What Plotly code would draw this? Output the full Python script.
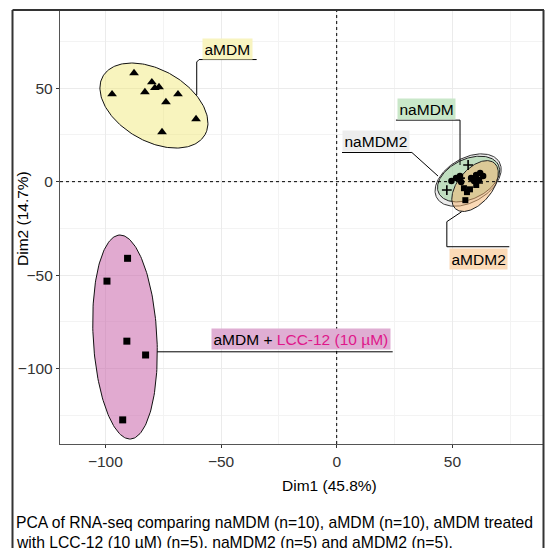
import numpy as np
import plotly.graph_objects as go

# ---------------- data ----------------
amdm_x = [-87.6, -97.1, -79.9, -82.9, -78.6, -76.8, -73.8, -68.6, -60.8, -75.5]
amdm_y = [58.1, 46.8, 53.2, 47.9, 50.1, 50.6, 42.6, 46.8, 33.5, 26.5]

lcc_x = [-90.4, -99.3, -90.7, -82.6, -92.5]
lcc_y = [-41.0, -53.2, -85.3, -92.7, -127.4]

namdm_x = [49.6, 51.6, 53.3, 53.8, 58.1, 59.4, 60.3, 62.0, 63.3, 61.5]
namdm_y = [0.3, 1.9, 3.0, -0.2, 1.9, 0.3, 3.5, 4.6, 3.0, 0.9]

amdm2_x = [55.0, 56.3, 57.6, 60.3, 55.6]
amdm2_y = [-3.5, -5.6, -4.1, -1.8, -9.9]

namdm2_x = [56.8, 47.6, 53.3, 59.4, 61.1]
namdm2_y = [8.9, -4.5, 1.9, 1.9, -0.7]

# ellipse summaries (centre, two conjugate semi-diameters) in data units
ell_names = ["naMDM2", "naMDM", "aMDM2", "aMDM", "LCC"]
ell_cx = [56.8, 57.0, 59.8, -79.0, -91.5]
ell_cy = [0.86, 1.39, -2.35, 40.7, -83.1]
ell_ux = [13.48, 12.93, 8.34, 22.06, -2.16]
ell_uy = [9.63, 7.46, 12.29, -15.63, 54.55]
ell_vx = [4.76, 3.65, 5.63, -7.65, 13.79]
ell_vy = [-10.19, -9.69, -5.84, -16.52, 0.0]
ell_fill = ["rgba(210,210,210,0.45)", "rgba(150,210,150,0.5)",
            "rgba(245,180,110,0.5)", "rgba(240,230,110,0.45)",
            "rgba(200,100,170,0.55)"]
ell_line = ["#333333", "#222222", "#222222", "#111111", "#111111"]

x_ticks = [-100, -50, 0, 50]
y_ticks = [-100, -50, 0, 50]

FONT = "Liberation Sans, Arial, sans-serif"

fig = go.Figure()

t = np.linspace(0, 2 * np.pi, 200)
for i in range(len(ell_names)):
    ex = ell_cx[i] + ell_ux[i] * np.cos(t) + ell_vx[i] * np.sin(t)
    ey = ell_cy[i] + ell_uy[i] * np.cos(t) + ell_vy[i] * np.sin(t)
    fig.add_trace(go.Scatter(x=ex, y=ey, mode="lines", fill="toself",
                             fillcolor=ell_fill[i],
                             line=dict(color=ell_line[i], width=1),
                             hoverinfo="skip", showlegend=False))

# zero reference lines
fig.add_hline(y=0, line=dict(color="black", width=1, dash="dot"))
fig.add_vline(x=0, line=dict(color="black", width=1, dash="dot"))

def pts(x, y, symbol, size, lw=0):
    fig.add_trace(go.Scatter(x=x, y=y, mode="markers", showlegend=False,
                             marker=dict(symbol=symbol, size=size, color="black",
                                         line=dict(color="black", width=lw))))

pts(amdm_x, amdm_y, "triangle-up", 8.5)
pts(lcc_x, lcc_y, "square", 7)
pts(namdm_x, namdm_y, "circle", 6.5)
pts(amdm2_x, amdm2_y, "square", 6)
pts(namdm2_x, namdm2_y, "cross-thin", 7, 1.6)

# ---------------- labels with connectors ----------------
def conn(xs, ys):
    fig.add_trace(go.Scatter(x=xs, y=ys, mode="lines", showlegend=False,
                             hoverinfo="skip", line=dict(color="black", width=1)))

conn([-60.5, -60.5, -59.5, -34.6], [46.3, 64.0, 65.3, 65.3])
conn([53.3, 53.3, 25.6], [8.9, 32.9, 32.9])
conn([43.8, 32.5, 2.3], [3.0, 15.6, 15.6])
conn([54.0, 47.6, 47.6, 74.6], [-16.1, -21.4, -34.8, -34.8])
conn([-77.6, 24.2], [-91.0, -91.0])

def lab(x, y, text, bg):
    fig.add_annotation(x=x, y=y, text=text, showarrow=False, bgcolor=bg,
                       xanchor="center", yanchor="middle",
                       borderpad=1.5, font=dict(family=FONT, size=15.5, color="black"))

lab(-47.4, 71.0, "aMDM", "#f8f4c0")
lab(38.8, 38.7, "naMDM", "#c9e7c9")
lab(17.0, 22.0, "naMDM2", "#ededed")
lab(61.1, -41.4, "aMDM2", "#fbdab7")
lab(-15.4, -84.2, "aMDM + <span style='color:#E0168A'>LCC-12 (10 µM)</span>", "#dfaed3")

# ---------------- layout ----------------
W, H = 547, 548
L, R, T, B = 60, 3, 10, 104
pw, ph = W - L - R, H - T - B

def px(xp):  # screen pixel x -> paper
    return (xp - L) / pw

def py(yp):  # screen pixel y -> paper
    return (H - B - yp) / ph

fig.add_annotation(xref="paper", yref="paper", x=px(329), y=py(485),
                   xanchor="center", yanchor="middle",
                   text="Dim1 (45.8%)", showarrow=False,
                   font=dict(family=FONT, size=15.5, color="black"))
fig.add_annotation(xref="paper", yref="paper", x=px(22), y=py(219),
                   xanchor="center", yanchor="middle",
                   text="Dim2 (14.7%)", showarrow=False, textangle=-90,
                   font=dict(family=FONT, size=15.5, color="black"))
fig.add_annotation(xref="paper", yref="paper", x=px(14), y=py(522),
                   xanchor="left", yanchor="middle",
                   text="PCA of RNA-seq comparing naMDM (n=10), aMDM (n=10), aMDM treated",
                   showarrow=False, font=dict(family=FONT, size=15.7, color="black"))
fig.add_annotation(xref="paper", yref="paper", x=px(14), y=py(542),
                   xanchor="left", yanchor="middle",
                   text="with LCC-12 (10 µM) (n=5), naMDM2 (n=5) and aMDM2 (n=5).",
                   showarrow=False, font=dict(family=FONT, size=15.7, color="black"))

# outer frame (figure box)
frame = dict(color="#333333", width=2)
fig.add_shape(type="line", xref="paper", yref="paper", x0=px(12.5), x1=px(12.5),
              y0=py(10), y1=py(560), line=frame)
fig.add_shape(type="line", xref="paper", yref="paper", x0=px(12.5), x1=px(544),
              y0=py(10), y1=py(10), line=frame)
fig.add_shape(type="line", xref="paper", yref="paper", x0=px(543.5), x1=px(543.5),
              y0=py(10), y1=py(560), line=frame)

axis_common = dict(showgrid=True, gridcolor="#ebebeb", gridwidth=1.4,
                   zeroline=False, showline=True, linecolor="#555555", linewidth=1.3,
                   mirror=False, ticks="outside", ticklen=3, tickwidth=1.2,
                   tickcolor="#333333", automargin=False,
                   tickfont=dict(family=FONT, size=15.5, color="#333333"),
                   minor=dict(showgrid=True, gridcolor="#f3f3f3", gridwidth=0.8,
                              dtick=25, ticks=""))

fig.update_layout(
    width=W, height=H,
    margin=dict(l=L, r=R, t=T, b=B),
    paper_bgcolor="white", plot_bgcolor="white",
    showlegend=False,
    xaxis=dict(range=[-119.6, 89.6], tickvals=x_ticks, **axis_common),
    yaxis=dict(range=[-140.3, 91.8], tickvals=y_ticks, **axis_common),
)

fig.write_html(
    "out.html",
    config={"displayModeBar": False},
    post_script="document.body.style.margin='0';document.body.style.overflow='hidden';",
)
